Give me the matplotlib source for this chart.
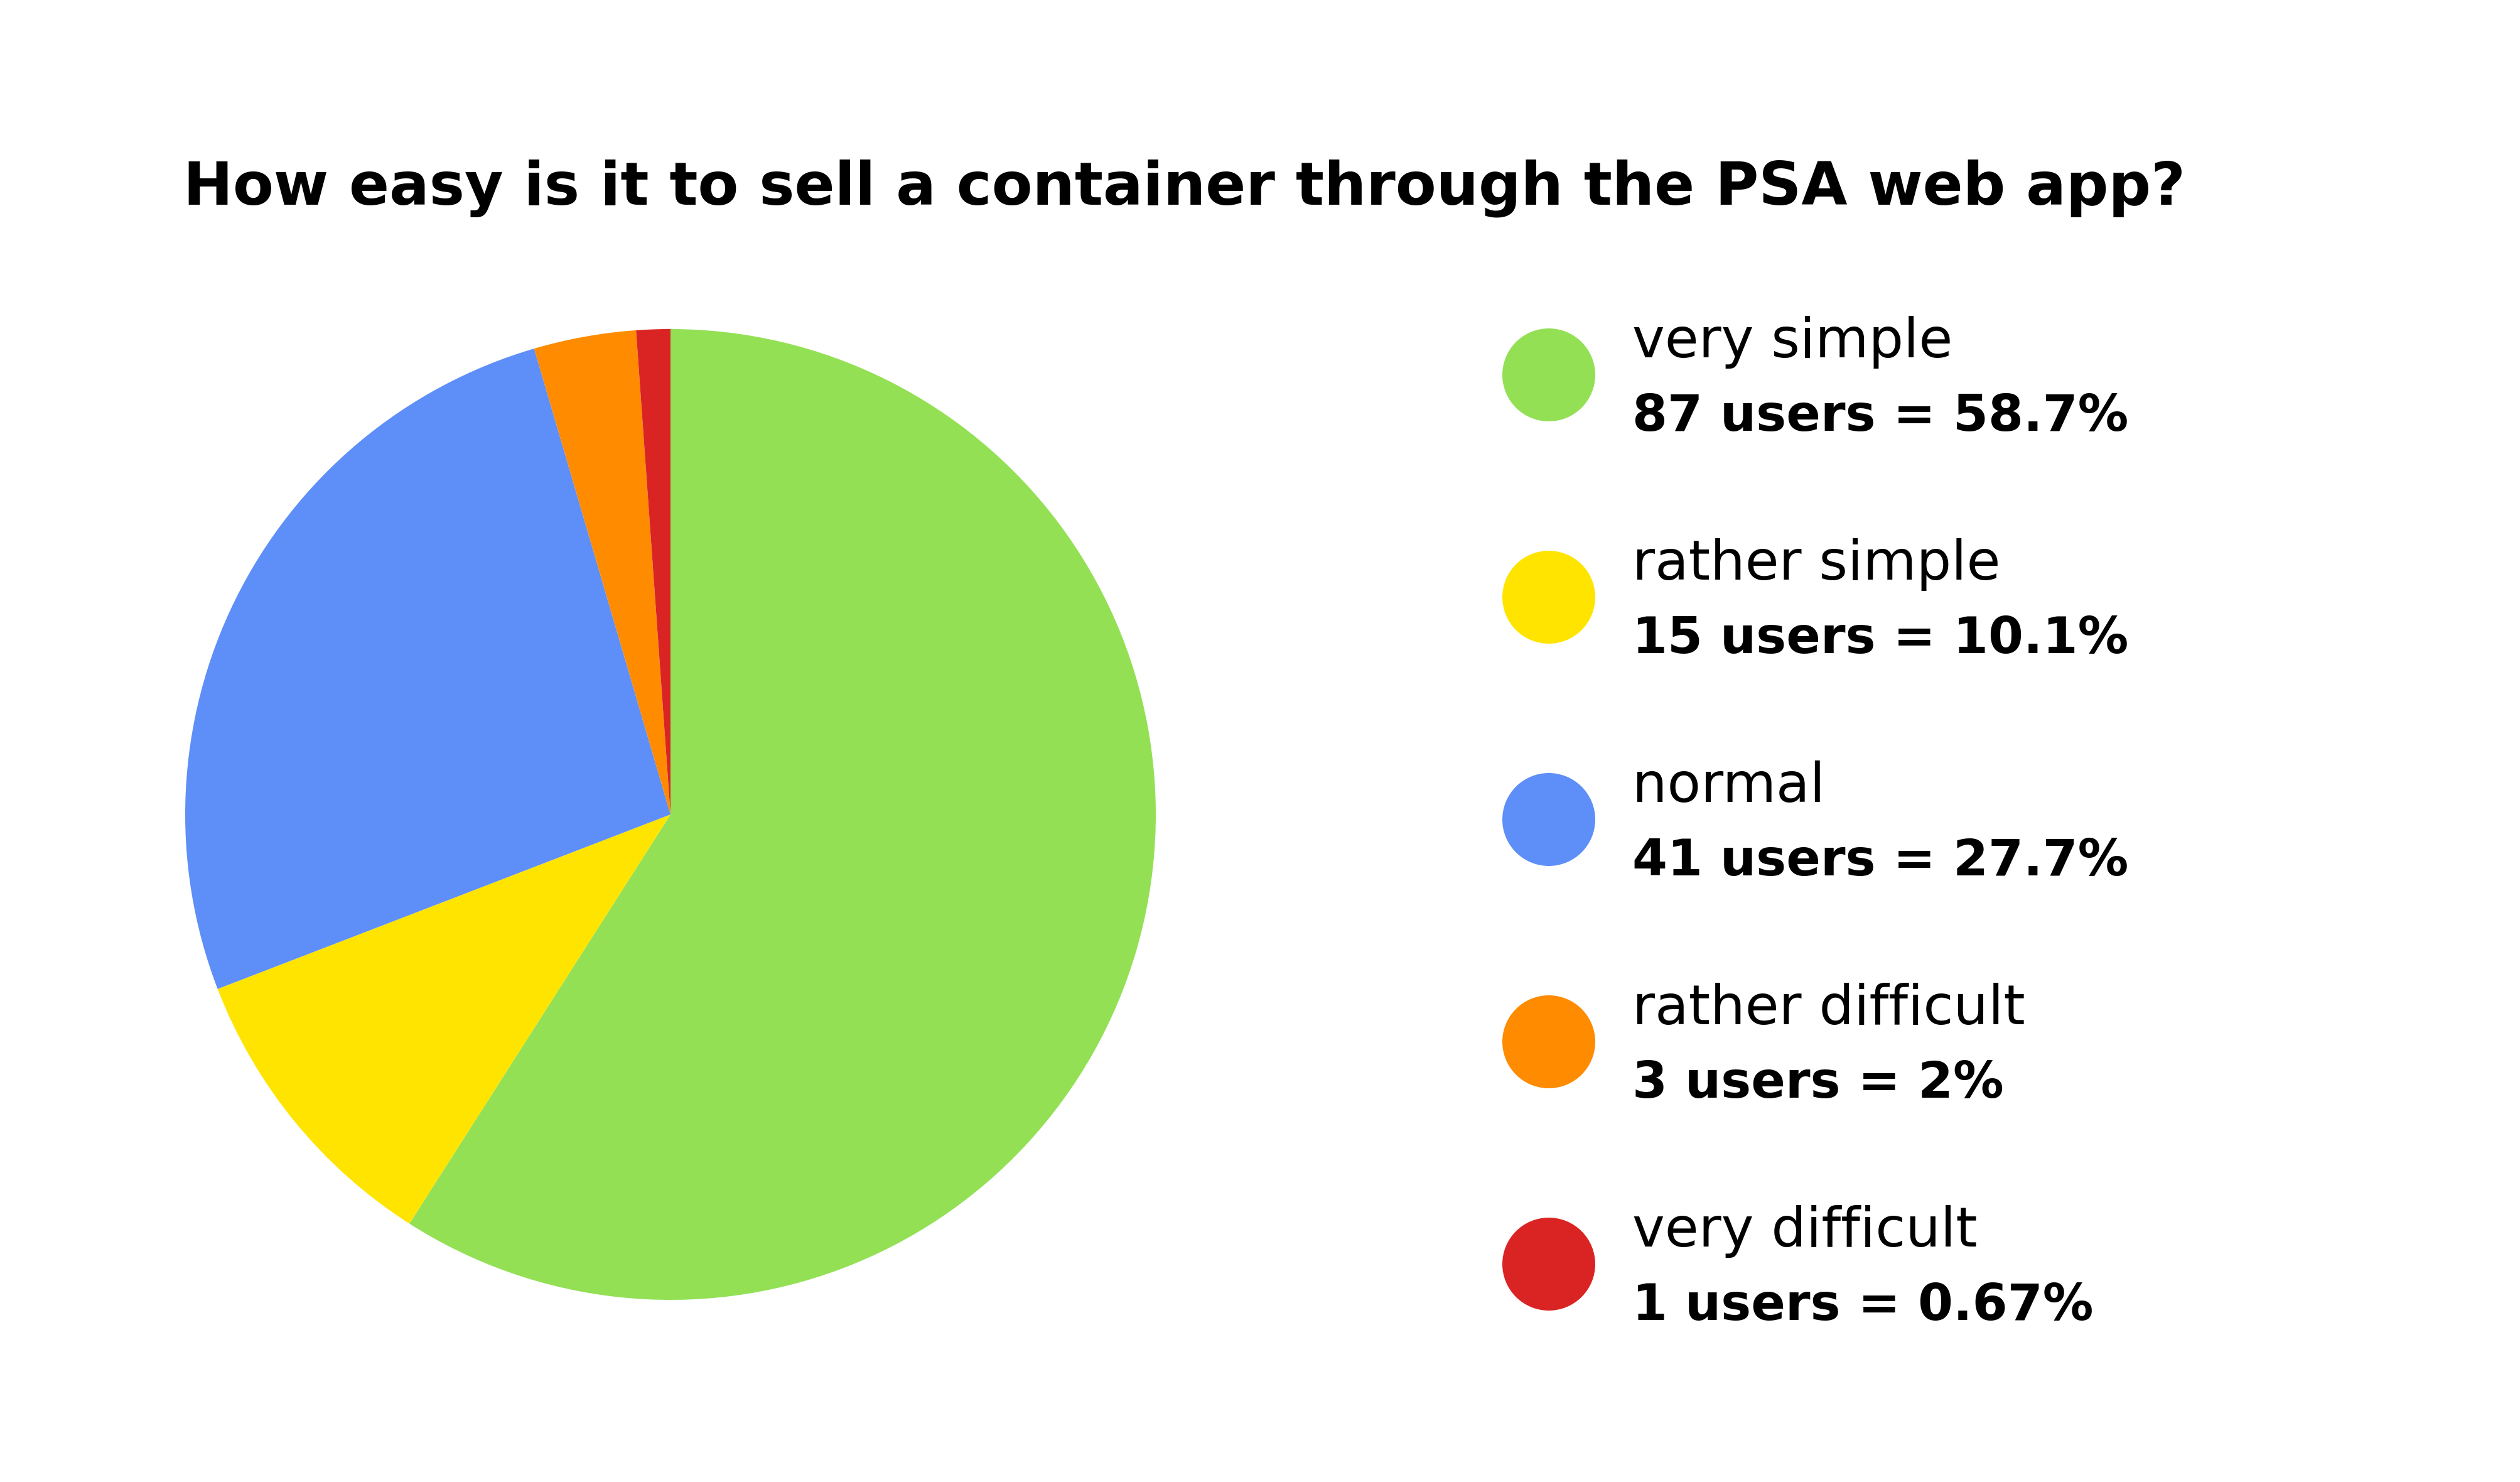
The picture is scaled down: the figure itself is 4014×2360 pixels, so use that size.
import matplotlib
matplotlib.use("Agg")
from matplotlib import pyplot as plt
from matplotlib.patches import Circle

# data
categories = ["very simple", "rather simple", "normal", "rather difficult", "very difficult"]
users = [87, 15, 41, 3, 1]
pct_labels = ["58.7%", "10.1%", "27.7%", "2%", "0.67%"]
# slice sizes as drawn in the picture (measured angles, in %)
slice_share = [59.0, 10.1, 26.3, 3.4, 1.13]
colors = ["#93E055", "#FFE400", "#5E8EF7", "#FF8B00", "#DA2424"]

title = "How easy is it to sell a container through the PSA web app?"

W, H = 4014, 2360
DPI = 200
FONT = "DejaVu Sans"

fig = plt.figure(figsize=(W / DPI, H / DPI), dpi=DPI, facecolor="white")
ax = fig.add_axes([0, 0, 1, 1])

def py(y):
    # pixel row (from top) -> data y
    return H - y

ax.pie(slice_share, colors=colors, startangle=90, counterclock=False,
       center=(1068, py(1297)), radius=773,
       wedgeprops=dict(linewidth=0, edgecolor="none"))

ax.set_xlim(0, W)
ax.set_ylim(0, H)
ax.set_aspect("equal")
ax.axis("off")

ax.text(292, py(326), title, fontsize=34, fontweight="bold",
        family=FONT, color="black", ha="left", va="baseline")

row0, step = 597, 354
for i, (cat, n, pct, col) in enumerate(zip(categories, users, pct_labels, colors)):
    cy = row0 + i * step
    ax.add_patch(Circle((2467, py(cy)), 74, facecolor=col, edgecolor="none"))
    ax.text(2600, py(cy - 28), cat, fontsize=31.5, family=FONT,
            color="black", ha="left", va="baseline")
    ax.text(2600, py(cy + 89), "%d users = %s" % (n, pct), fontsize=29,
            fontweight="bold", family=FONT, color="black", ha="left", va="baseline")

fig.savefig("out.png", dpi=DPI, facecolor="white")
